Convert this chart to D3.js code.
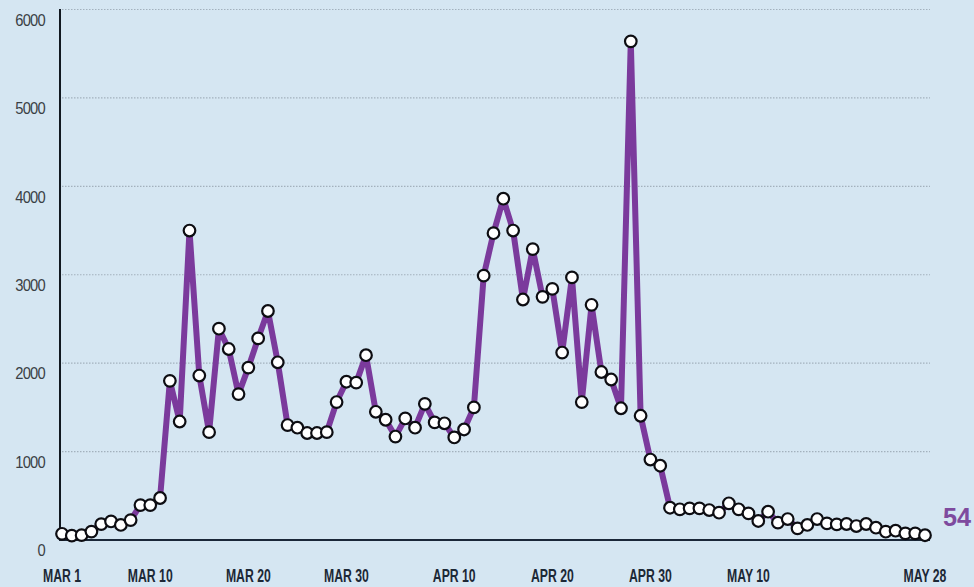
<!DOCTYPE html>
<html><head><meta charset="utf-8">
<script src="https://cdn.jsdelivr.net/npm/d3@7/dist/d3.min.js"></script>
<style>
html,body{margin:0;padding:0;background:#d5e6f2;}
svg{display:block;}
.ylab{font-family:"Liberation Sans",Arial,sans-serif;font-size:16px;fill:#3a3f45;letter-spacing:-0.8px;}
.xlab{font-family:"Liberation Sans",Arial,sans-serif;font-weight:bold;font-size:18px;fill:#1c2836;}
</style>
</head><body>
<script>
const marchValues = [70,50,55,95,180,210,170,225,395,395,475,1800,1340,3500,1860,1220,2390,2160,1650,1950,2280,2590,2010,1300,1270,1210,1210,1220,1560,1790,1780];
const aprilValues = [2090,1450,1360,1170,1375,1270,1540,1330,1320,1160,1250,1500,2990,3470,3860,3500,2720,3290,2750,2840,2120,2970,1560,2660,1900,1815,1490,5640,1405,910];
const mayValues = [840,365,347,358,358,339,309,415,347,301,215,320,196,237,132,170,237,188,177,181,158,181,139,94,105,75,75,54];
const yTicks = [0,1000,2000,3000,4000,5000,6000];
const xTickLabels = ["MAR 1","MAR 10","MAR 20","MAR 30","APR 10","APR 20","APR 30","MAY 10","MAY 28"];
const xTickDays = [0,9,19,29,40,50,60,70,88];
const lastLabel = "54";

const values = marchValues.concat(aprilValues, mayValues);
const data = values.map((v,i)=>({i, v}));

const W = 974, H = 587;
const svg = d3.select("body").append("svg").attr("width",W).attr("height",H);
svg.append("rect").attr("width",W).attr("height",H).attr("fill","#d5e6f2");

const x = d3.scaleLinear().domain([0, values.length-1]).range([62, 925]);
const y = d3.scaleLinear().domain([0, 6000]).range([540, 9.5]);

// gridlines
svg.append("g").selectAll("line").data(yTicks.filter(d=>d>0)).join("line")
  .attr("x1",62).attr("x2",930)
  .attr("y1",d=>y(d)).attr("y2",d=>y(d))
  .attr("stroke","#a3b1bd").attr("stroke-width",1.2).attr("stroke-dasharray","1.5,1.5");

// y labels
svg.append("g").selectAll("text").data(yTicks).join("text")
  .attr("class","ylab")
  .attr("transform",d=>`translate(45,${y(d)+12}) scale(0.92,1)`)
  .attr("text-anchor","end").attr("dominant-baseline","middle")
  .text(d=>d);

// axes lines
svg.append("line").attr("x1",60).attr("x2",60).attr("y1",9).attr("y2",541)
  .attr("stroke","#111820").attr("stroke-width",2);
svg.append("line").attr("x1",59).attr("x2",930).attr("y1",540).attr("y2",540)
  .attr("stroke","#1a2738").attr("stroke-width",2);

// x labels
svg.append("g").selectAll("text").data(xTickDays).join("text")
  .attr("class","xlab")
  .attr("transform",d=>`translate(${x(d)},577) scale(0.68,1)`)
  .attr("text-anchor","middle").attr("dominant-baseline","middle")
  .text((d,k)=>xTickLabels[k]);

// line
const line = d3.line().x(d=>x(d.i)).y(d=>y(d.v));
svg.append("path").datum(data).attr("d",line)
  .attr("fill","none").attr("stroke","#7b3a9c").attr("stroke-width",6)
  .attr("stroke-linejoin","round").attr("stroke-linecap","round");

// points
svg.append("g").selectAll("circle").data(data).join("circle")
  .attr("cx",d=>x(d.i)).attr("cy",d=>y(d.v)).attr("r",5.8)
  .attr("fill","#ffffff").attr("stroke","#0d0d12").attr("stroke-width",2.2);

// last value label
svg.append("text")
  .attr("transform","translate(943,519) scale(0.97,1)")
  .attr("dominant-baseline","middle")
  .style("font-family",'"Liberation Sans",Arial,sans-serif')
  .style("font-weight","bold").style("font-size","26px").attr("fill","#7e4a9e")
  .text(lastLabel);
</script>
</body></html>
